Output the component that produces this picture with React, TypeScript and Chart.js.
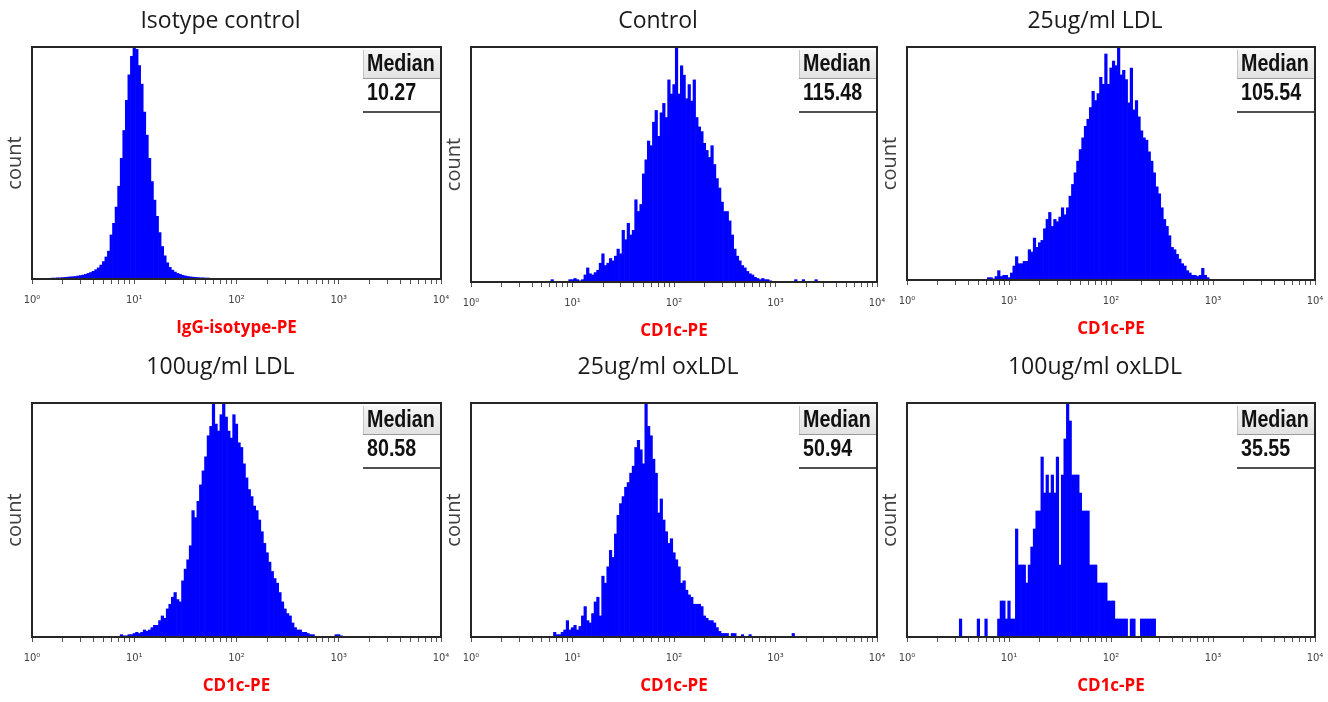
import React, { useEffect, useRef } from 'react';
import { Chart, registerables } from 'chart.js';

Chart.register(...registerables);

// ---------- text ----------
const panelTitles = ['Isotype control', 'Control', '25ug/ml LDL', '100ug/ml LDL', '25ug/ml oxLDL', '100ug/ml oxLDL'];
const xAxisTitles = ['IgG-isotype-PE', 'CD1c-PE', 'CD1c-PE', 'CD1c-PE', 'CD1c-PE', 'CD1c-PE'];
const medianLabels = ['10.27', '115.48', '105.54', '80.58', '50.94', '35.55'];
const medianHeader = 'Median';
const yAxisTitle = 'count';
const xTickLabels = ['10⁰', '10¹', '10²', '10³', '10⁴'];

// ---------- histogram data (log10 bins, step per bin) ----------
const binStepLog = 0.025;
const firstBinLog = [0.15, 0.8, 0.8, 0.85, 0.825, 0.525];

const isotypeCounts = [0.3, 0.3, 0.4, 0.4, 0.5, 0.5, 0.6, 0.7, 0.8, 0.9, 1.0, 1.1, 1.3, 1.5, 1.7, 2.0, 2.4, 2.8, 3.3, 4.0, 4.8, 6.0, 7.5, 9.5, 12, 19, 24, 31, 40, 52, 64, 77, 88, 96, 100, 99, 92, 84, 72, 62, 52, 42, 34, 27, 20, 14, 10, 7, 5, 3.8, 3.0, 2.4, 2.0, 1.6, 1.3, 1.1, 0.9, 0.8, 0.7, 0.6, 0.5, 0.5, 0.4, 0.4, 0.3, 0.3, 0.3, 0.2, 0.2, 0.2, 0.2, 0.2, 0.1, 0.1, 0.1, 0.1, 0.1, 0.1];
const controlCounts = [1, 0, 0, 0, 0, 0, 0, 1, 1, 1.5, 1, 0.5, 1, 3, 6, 3.5, 3, 4, 5, 8, 12, 7, 8, 10, 9, 11, 14, 12, 22, 18, 25, 20, 22, 35, 30, 33, 46, 52, 60, 58, 68, 73, 62, 72, 76, 70, 86, 80, 84, 100, 80, 92, 88, 78, 84, 77, 86, 70, 66, 64, 59, 56, 53, 58, 50, 44, 40, 34, 30, 30, 26, 20, 14, 11, 9, 7, 6, 4.5, 3.5, 3, 2, 1.5, 1, 1.5, 1, 1, 0.5, 0, 0, 0, 0, 0, 0, 0, 0, 0, 1, 0, 0, 1, 0, 0, 0, 0, 1];
const ldl25Counts = [1, 1, 0.5, 1.5, 4, 1.5, 2, 2, 1, 3, 6, 10, 7, 7, 8, 8, 13, 12, 18, 14, 16, 17, 22, 26, 29, 23, 26, 25, 27, 31, 28, 31, 36, 41, 46, 51, 56, 61, 66, 69, 74, 81, 77, 80, 87, 84, 97, 84, 91, 94, 92, 100, 88, 90, 86, 76, 91, 73, 77, 70, 64, 61, 60, 55, 51, 46, 40, 37, 31, 26, 23, 19, 14, 13, 11, 9, 7, 6, 4, 3, 2, 2, 1.5, 2, 5, 2, 1];
const ldl100Counts = [0, 1, 0.5, 0.5, 1, 1, 1.5, 2, 1.5, 2, 3, 2.5, 3, 4, 5, 5, 7, 9, 8, 12, 14, 17, 19, 16, 15, 24, 29, 33, 39, 54, 51, 58, 65, 71, 77, 86, 90, 100, 91, 88, 95, 100, 94, 88, 85, 95, 91, 83, 81, 74, 68, 63, 60, 56, 54, 50, 45, 40, 36, 32, 28, 25, 23, 19, 15, 12, 10, 9, 6, 4, 3, 3, 2, 2, 1.5, 1, 1, 0, 0, 0, 0, 0, 0, 0, 0, 1, 1, 0.5];
const oxldl25Counts = [2, 1, 1, 2, 3, 7, 3, 4, 5, 3, 4.5, 9, 13, 7, 6, 10, 15, 17, 9, 26, 23, 30, 37, 34, 44, 52, 57, 60, 64, 66, 70, 73, 81, 84, 80, 74, 100, 90, 86, 76, 70, 53, 59, 50, 45, 40, 42, 36, 33, 30, 23, 24, 20, 18, 17, 14, 14, 14, 13, 9, 8, 7, 7, 6, 4, 2.4, 1.5, 1.5, 1.5, 0, 1.5, 1.5, 0, 0, 1, 0, 0, 1, 0, 0, 0, 0, 0, 0, 0, 0, 0, 0, 0, 0, 0, 0, 0, 0, 1.5];
const oxldl100Counts = [1, 0, 0, 0, 0, 0, 0, 1, 0, 0, 1, 0, 0, 0, 0, 1, 2, 2, 1, 2, 1, 1, 6, 4, 4, 4, 3, 4, 5, 6, 7, 7, 10, 8, 9, 8, 9, 8, 10, 4, 9, 11, 13, 12, 9, 9, 9, 8, 7, 7, 7, 4, 4, 4, 3, 3, 3, 3, 2, 2, 2, 1, 1, 1, 1, 1, 0, 1, 1, 0, 0, 1, 1, 1, 1, 1, 1];

const panelCounts = [isotypeCounts, controlCounts, ldl25Counts, ldl100Counts, oxldl25Counts, oxldl100Counts];

// ---------- layout (pixels) ----------
const plotBoxes = [
  { left: 32, top: 47, width: 409, height: 232, titleY: 20 },
  { left: 471, top: 47, width: 406, height: 235, titleY: 20 },
  { left: 907, top: 47, width: 408, height: 233, titleY: 20 },
  { left: 32, top: 403, width: 409, height: 234, titleY: 366 },
  { left: 471, top: 403, width: 406, height: 234, titleY: 366 },
  { left: 907, top: 403, width: 408, height: 234, titleY: 366 },
];
const Y_AXIS_W = 32;
const X_AXIS_H = 62;
const PAD_R = 10;
const TITLE_SIZE = 23;
const TITLE_PAD_TOP = 8;

const BAR_BLUE = '#0000ff';

function drawCondensed(ctx: CanvasRenderingContext2D, text: string, x: number, y: number, sx: number) {
  ctx.save();
  ctx.translate(x, y);
  ctx.scale(sx, 1);
  ctx.fillText(text, 0, 0);
  ctx.restore();
}

const panelDecor = {
  id: 'panelDecor',
  afterDraw(chart: any, _args: any, opts: any) {
    const { ctx, chartArea: a } = chart;
    ctx.save();
    // Median table
    const bw = 78;
    const x0 = a.right - bw;
    const hy0 = a.top + 3;
    const hy1 = a.top + 31;
    const g = ctx.createLinearGradient(0, hy0, 0, hy1);
    g.addColorStop(0, '#f5f5f5');
    g.addColorStop(1, '#e2e2e2');
    ctx.fillStyle = g;
    ctx.fillRect(x0, hy0, bw, hy1 - hy0);
    ctx.lineWidth = 1;
    ctx.strokeStyle = '#c4c4c4';
    ctx.beginPath();
    ctx.moveTo(x0 + 0.5, hy0);
    ctx.lineTo(x0 + 0.5, hy1);
    ctx.stroke();
    ctx.strokeStyle = '#9a9a9a';
    ctx.beginPath();
    ctx.moveTo(x0, hy1 + 0.5);
    ctx.lineTo(a.right, hy1 + 0.5);
    ctx.stroke();
    ctx.strokeStyle = '#505050';
    ctx.lineWidth = 2;
    ctx.beginPath();
    ctx.moveTo(x0, a.top + 65);
    ctx.lineTo(a.right, a.top + 65);
    ctx.stroke();

    ctx.fillStyle = '#111111';
    ctx.font = 'bold 24px "Liberation Sans", Arial, sans-serif';
    ctx.textBaseline = 'middle';
    ctx.textAlign = 'left';
    drawCondensed(ctx, medianHeader, x0 + 4, a.top + 17.5, 0.82);
    drawCondensed(ctx, opts.value, x0 + 4, a.top + 46, 0.82);

    // frame
    ctx.strokeStyle = '#262626';
    ctx.lineWidth = 2;
    ctx.strokeRect(a.left, a.top, a.right - a.left, a.bottom - a.top);
    ctx.restore();
  },
};

const tickValues: number[] = [];
for (let d = 0; d < 4; d++) {
  for (let k = 1; k < 10; k++) tickValues.push(k * Math.pow(10, d));
}
tickValues.push(10000);

function Panel({ index }: { index: number }) {
  const ref = useRef<HTMLCanvasElement | null>(null);
  const box = plotBoxes[index];
  const canvasLeft = box.left - Y_AXIS_W;
  const canvasTop = box.titleY - 20;
  const titleBlock = box.top - canvasTop;
  const titlePadBottom = titleBlock - TITLE_PAD_TOP - TITLE_SIZE * 1.2;
  const w = box.width + Y_AXIS_W + PAD_R;
  const h = titleBlock + box.height + X_AXIS_H;

  useEffect(() => {
    if (!ref.current) return;
    const counts = panelCounts[index];
    const data = counts.map((c, i) => ({ x: Math.pow(10, firstBinLog[index] + i * binStepLog), y: c }));
    const yMax = Math.max(...counts);
    const chart = new Chart(ref.current, {
      type: 'bar',
      data: {
        datasets: [
          {
            data: data as any,
            backgroundColor: BAR_BLUE,
            borderWidth: 0,
            barPercentage: 1,
            categoryPercentage: 1,
          },
        ],
      },
      plugins: [panelDecor as any],
      options: {
        animation: false,
        responsive: false,
        maintainAspectRatio: false,
        devicePixelRatio: 1,
        layout: { padding: { left: 0, right: PAD_R, top: 0, bottom: 0 } },
        plugins: {
          legend: { display: false },
          tooltip: { enabled: false },
          title: {
            display: true,
            text: panelTitles[index],
            color: '#1a1a1a',
            font: { family: '"Open Sans", sans-serif', size: TITLE_SIZE, weight: 'normal' },
            padding: { top: TITLE_PAD_TOP, bottom: titlePadBottom },
          },
          panelDecor: { value: medianLabels[index] },
        } as any,
        scales: {
          x: {
            type: 'logarithmic',
            min: 1,
            max: 10000,
            offset: false,
            grid: { display: true, drawOnChartArea: false, drawTicks: true, tickLength: 5, tickColor: '#555', offset: false },
            border: { display: false },
            ticks: {
              autoSkip: false,
              maxRotation: 0,
              minRotation: 0,
              padding: 10,
              color: '#444',
              font: { family: '"DejaVu Sans", sans-serif', size: 10 },
              callback: (v: any) => {
                const e = Math.log10(Number(v));
                const r = Math.round(e);
                return Math.abs(e - r) < 1e-6 ? xTickLabels[r] : '';
              },
            },
            afterBuildTicks: (s: any) => {
              s.ticks = tickValues.map((v) => ({ value: v }));
            },
            afterFit: (s: any) => {
              s.height = X_AXIS_H;
              s.paddingLeft = 0;
              s.paddingRight = 0;
            },
            title: {
              display: true,
              text: xAxisTitles[index],
              color: '#ff0000',
              font: { family: '"Open Sans", sans-serif', size: 17, weight: 'bold' },
              padding: { top: 0, bottom: 3 },
            },
          } as any,
          y: {
            min: 0,
            max: yMax,
            ticks: { display: false },
            grid: { display: false },
            border: { display: false },
            afterFit: (s: any) => {
              s.width = Y_AXIS_W;
              s.paddingTop = 0;
              s.paddingBottom = 0;
            },
            title: {
              display: true,
              text: yAxisTitle,
              color: '#404040',
              font: { family: '"Open Sans", sans-serif', size: 20, weight: 'normal' },
              padding: { top: 3, bottom: 0 },
            },
          } as any,
        },
      },
    });
    return () => chart.destroy();
  }, [index]);

  return (
    <canvas
      ref={ref}
      width={w}
      height={h}
      style={{ position: 'absolute', left: canvasLeft, top: canvasTop, width: w, height: h }}
    />
  );
}

export default function App() {
  return (
    <div style={{ position: 'absolute', left: 0, top: 0, width: 1328, height: 702, background: '#ffffff', overflow: 'hidden' }}>
      {panelTitles.map((_, i) => (
        <Panel key={i} index={i} />
      ))}
    </div>
  );
}
